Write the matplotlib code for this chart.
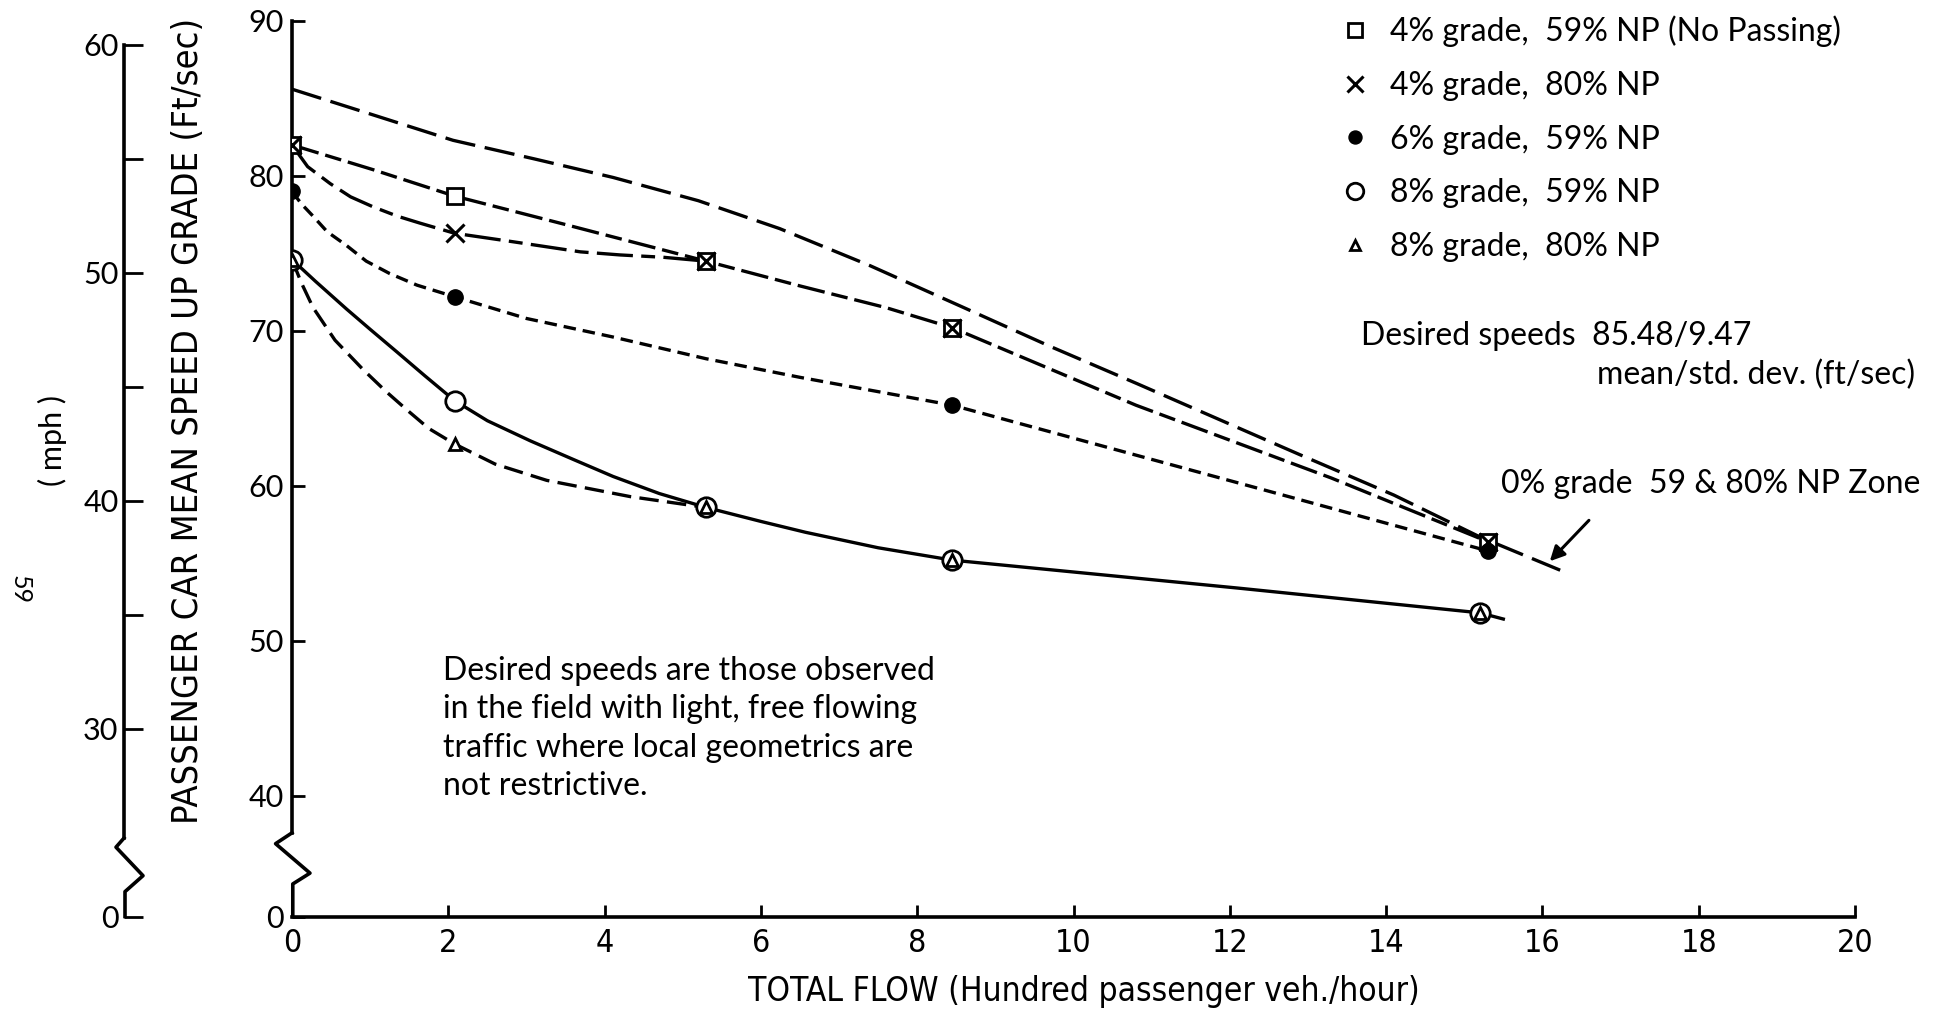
import matplotlib
matplotlib.use('Agg')
import matplotlib.pyplot as plt
from matplotlib.transforms import blended_transform_factory

plt.rcParams['font.family'] = ['Lato', 'DejaVu Sans']
plt.rcParams['lines.scale_dashes'] = False
NARROW = ['Liberation Sans Narrow', 'DejaVu Sans']

W, H = 1942, 1009


def fx(px):
    return px / W


def fy(py):
    return 1 - py / H


# measured points, total flow (hundred veh./hour) vs mean speed (ft/sec)
flow = [0, 2.08, 5.3, 8.45, 15.3]
flow_6 = [0, 2.08, 8.45, 15.3]
flow_8 = [0, 2.08, 5.3, 8.45, 15.2]

speed_4_59 = [82.0, 78.7, 74.5, 70.2, 56.4]
speed_4_80 = [82.0, 76.3, 74.5, 70.2, 56.4]
speed_6_59 = [79.0, 72.2, 65.2, 55.8]
speed_8_59 = [74.6, 65.5, 58.6, 55.2, 51.8]
speed_8_80 = [74.6, 62.7, 58.6, 55.2, 51.8]

# hand drawn curves
curve_0_x = [0, 0.5, 1.0, 2.06, 3.1, 4.11, 5.2, 6.24, 7.4, 8.53, 9.7, 10.81, 11.9, 12.9, 14.1, 15.2, 16.3]
curve_0_y = [85.6, 84.8, 84.0, 82.3, 81.1, 79.9, 78.4, 76.6, 74.2, 71.65, 69.0, 66.6, 64.2, 62.0, 59.4, 56.7, 54.4]

curve_4_59_x = [0, 1.04, 2.08, 3.47, 5.3, 6.5, 7.6, 8.45, 10.8, 13.3, 15.3]
curve_4_59_y = [82.0, 80.4, 78.7, 76.9, 74.5, 72.9, 71.5, 70.2, 65.2, 60.5, 56.4]

curve_4_80_x = [0, 0.2, 0.49, 0.75, 1.04, 1.35, 1.64, 2.08, 2.83, 3.69, 4.2, 4.75, 5.3]
curve_4_80_y = [82.0, 80.6, 79.5, 78.65, 78.0, 77.4, 76.95, 76.3, 75.75, 75.1, 74.9, 74.75, 74.5]

curve_6_59_x = [0, 0.12, 0.27, 0.45, 0.7, 0.95, 1.25, 1.6, 2.08, 3.0, 4.11, 5.3, 6.5, 8.45, 12.9, 15.3]
curve_6_59_y = [79.0, 78.2, 77.4, 76.4, 75.5, 74.5, 73.7, 72.95, 72.2, 70.8, 69.6, 68.2, 67.0, 65.2, 59.1, 55.8]

curve_8_59_x = [0, 0.3, 0.7, 1.0, 1.34, 1.7, 2.08, 2.5, 3.05, 3.6, 4.11, 4.7, 5.3, 6.0, 6.57, 7.5, 8.45, 12.1, 15.2, 15.5]
curve_8_59_y = [74.6, 73.2, 71.4, 70.1, 68.65, 67.1, 65.5, 64.2, 62.9, 61.7, 60.6, 59.5, 58.6, 57.7, 57.0, 56.0, 55.2, 53.4, 51.8, 51.4]

curve_8_80_x = [0, 0.12, 0.27, 0.55, 0.91, 1.2, 1.47, 1.75, 2.08, 2.6, 3.26, 4.33, 5.3]
curve_8_80_y = [74.6, 73.1, 71.5, 69.4, 67.5, 66.1, 64.9, 63.7, 62.7, 61.4, 60.35, 59.3, 58.6]

ft_ticks = [40, 50, 60, 70, 80, 90]
ft_zero = 32.2          # where the broken axis puts its "0"
mph_ticks = [30, 40, 50, 60]
mph_minor = [35, 45, 55]
mph_zero = 21.76
x_ticks = list(range(0, 21, 2))

fig = plt.figure(figsize=(W / 100, H / 100), dpi=100)
ax = fig.add_axes([fx(292), fy(916.5), fx(1855) - fx(292), fy(21) - fy(916.5)])
ax.set_xlim(0, 20)
ax.set_ylim(ft_zero, 90)

lw = 2.4
ax.plot(curve_0_x, curve_0_y, color='k', lw=lw, dashes=(22, 7))
ax.plot(curve_4_59_x, curve_4_59_y, color='k', lw=lw, dashes=(20, 5, 12, 5))
ax.plot(curve_4_80_x, curve_4_80_y, color='k', lw=lw, dashes=(26, 6, 10, 6))
ax.plot(curve_6_59_x, curve_6_59_y, color='k', lw=lw, dashes=(9, 5))
ax.plot(curve_8_59_x, curve_8_59_y, color='k', lw=lw)
ax.plot(curve_8_80_x, curve_8_80_y, color='k', lw=lw, dashes=(14, 6))

ax.plot(flow, speed_4_59, ls='none', marker='s', ms=12, mfc='white', mec='k', mew=2,
        label='4% grade,  59% NP (No Passing)', zorder=4)
ax.plot(flow, speed_4_80, ls='none', marker='x', ms=13, mec='k', mew=2.2,
        label='4% grade,  80% NP', zorder=5)
ax.plot(flow_6, speed_6_59, ls='none', marker='o', ms=11, mfc='k', mec='k',
        label='6% grade,  59% NP', zorder=4)
ax.plot(flow_8, speed_8_59, ls='none', marker='o', ms=14, mfc='white', mec='k', mew=2,
        label='8% grade,  59% NP', zorder=4)
ax.plot(flow_8, speed_8_80, ls='none', marker='^', ms=9, mfc='white', mec='k', mew=2,
        label='8% grade,  80% NP', zorder=5)

# axes, ticks, broken left axis
for s in ['top', 'right']:
    ax.spines[s].set_visible(False)
ax.spines['bottom'].set_linewidth(2.6)
ax.spines['left'].set_linewidth(2.6)
ax.spines['left'].set_bounds(37.6, 90)
trans = blended_transform_factory(ax.transAxes, ax.transData)
ax.plot([0, -0.0105, 0.0115, 0.0005, 0.0005], [37.6, 36.9, 35.0, 34.3, ft_zero],
        color='k', lw=2.6, transform=trans, clip_on=False)

ax.set_yticks([ft_zero] + ft_ticks)
ax.set_yticklabels(['0'] + [str(t) for t in ft_ticks])
ax.set_xticks(x_ticks)
ax.tick_params(axis='y', direction='in', length=9, width=2, labelsize=22, pad=6)
ax.tick_params(axis='x', direction='in', length=9, width=2, labelsize=23, pad=8)
for lab in ax.get_xticklabels():
    lab.set_family(NARROW)
    lab.set_stretch('condensed')

# mph axis
ax2 = fig.add_axes([fx(124), fy(916.5), 0.0001, fy(44.6) - fy(916.5)])
ax2.set_facecolor('none')
ax2.set_ylim(mph_zero, 60)
for s in ['top', 'right', 'bottom']:
    ax2.spines[s].set_visible(False)
ax2.spines['left'].set_linewidth(2.6)
ax2.spines['left'].set_bounds(25.2, 60)
ax2.set_xticks([])
ax2.set_yticks([mph_zero] + mph_ticks)
ax2.set_yticklabels(['0'] + [str(t) for t in mph_ticks])
ax2.set_yticks(mph_minor, minor=True)
ax2.tick_params(axis='y', which='both', direction='in', length=14, width=2,
                labelsize=22, pad=4)
px = 1 / (0.0001 * W)
trans2 = blended_transform_factory(ax2.transAxes, ax2.transData)
ax2.plot([0, -8 * px, 19 * px, 1 * px, 1 * px], [25.2, 24.8, 23.55, 22.85, mph_zero],
         color='k', lw=2.6, transform=trans2, clip_on=False)

# labels
fig.text(fx(1084), fy(991), 'TOTAL FLOW (Hundred passenger veh./hour)', family=NARROW,
         stretch='condensed', fontsize=24, ha='center', va='center')
fig.text(fx(188), fy(421), 'PASSENGER CAR MEAN SPEED UP GRADE (Ft/sec)', family=NARROW,
         stretch='condensed', fontsize=26, ha='center', va='center', rotation=90)
fig.text(fx(52), fy(440), '( mph )', fontsize=22, ha='center', va='center', rotation=90)
fig.text(fx(20), fy(590), '59', fontsize=18, ha='center', va='center', rotation=-90)

fig.legend(loc='upper left', bbox_to_anchor=(fx(1326), fy(3)), frameon=False, fontsize=23,
           labelspacing=0.74, handlelength=1.0, handletextpad=0.6, borderaxespad=0,
           markerscale=0.85)

fig.text(fx(1361), fy(336), 'Desired speeds  85.48/9.47', fontsize=23, ha='left', va='center')
fig.text(fx(1915), fy(375), 'mean/std. dev. (ft/sec)', fontsize=23, ha='right', va='center')
fig.text(fx(1501), fy(484), '0% grade  59 & 80% NP Zone', fontsize=23, ha='left', va='center')
ax.annotate('', xy=(16.07, 55.0), xytext=(16.62, 57.9),
            arrowprops=dict(arrowstyle='-|>', color='k', lw=2.2, mutation_scale=22))

fig.text(fx(443), fy(656), 'Desired speeds are those observed\n'
         'in the field with light, free flowing\n'
         'traffic where local geometrics are\n'
         'not restrictive.', fontsize=23, ha='left', va='top', linespacing=1.35)

fig.savefig('out.png', dpi=100)
